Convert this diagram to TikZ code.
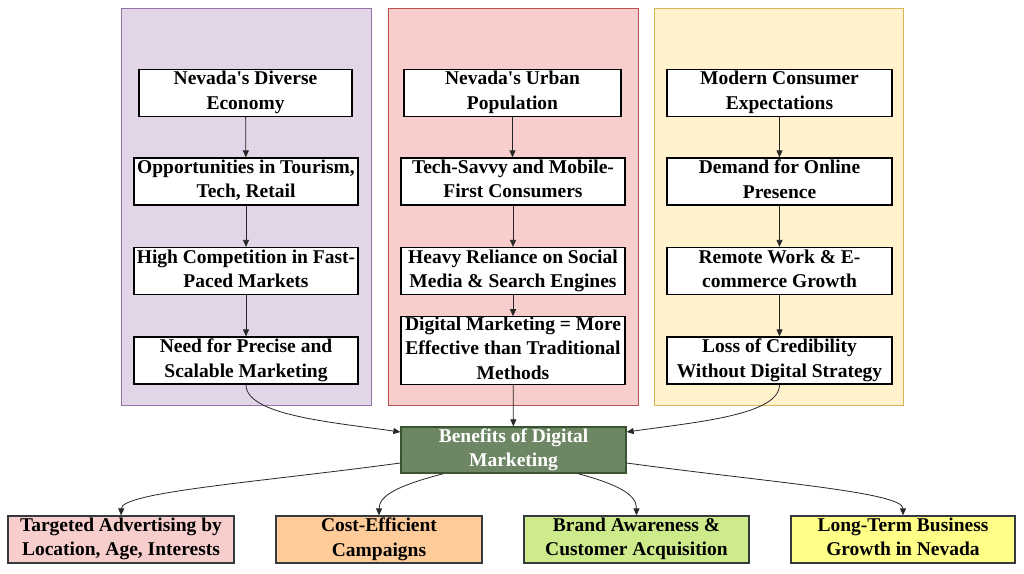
\documentclass[tikz,border=0pt]{standalone}
\usepackage{fontspec}
\setmainfont{Liberation Serif}[Ligatures=TeXOff]
\usetikzlibrary{arrows.meta}
\definecolor{purpfill}{HTML}{E1D5E7}
\definecolor{purpdraw}{HTML}{9673A6}
\definecolor{redfill}{HTML}{F8CECC}
\definecolor{reddraw}{HTML}{B85450}
\definecolor{yelfill}{HTML}{FFF2CC}
\definecolor{yeldraw}{HTML}{D6B656}
\definecolor{grnfill}{HTML}{6D8764}
\definecolor{grndraw}{HTML}{3A5431}
\definecolor{orgfill}{HTML}{FFCC99}
\definecolor{limefill}{HTML}{CDEB8B}
\definecolor{lyelfill}{HTML}{FFFF88}
\definecolor{darkedge}{HTML}{36393D}
\newcommand\myTop{\rule{0pt}{15.5pt}}
\newcommand\myBot{\rule[-5pt]{0pt}{5pt}}
\tikzset{
  panel/.style={draw=#1draw, fill=#1fill, line width=0.9pt},
  txt/.style={inner sep=0pt, align=center, font=\fontsize{19.5}{24.4}\selectfont\bfseries,
    execute at begin node=\myTop, execute at end node=\myBot},
  stepbox/.style={txt, draw=black, fill=white, line width=1.3pt, minimum height=47pt},
  outbox/.style={txt, draw=darkedge, fill=#1, line width=1.3pt, minimum height=47pt},
  conn/.style={draw=black!85, line width=0.8pt, -{Triangle[length=7pt,width=6pt]}},
}
\begin{document}
\begin{tikzpicture}[x=1pt,y=-1pt]
\useasboundingbox (0,0) rectangle (1024,573);
% panels
\draw[panel=purp] (121,8.5) rectangle (371,405);
\draw[panel=red] (388,8.5) rectangle (638,405);
\draw[panel=yel] (654,8.5) rectangle (903,405);
% left column
\node[stepbox, minimum width=213pt] (l1) at (245.5,92.8) {Nevada's Diverse\\Economy};
\node[stepbox, minimum width=224pt] (l2) at (246,181.5) {Opportunities in Tourism,\\Tech, Retail};
\node[stepbox, minimum width=224pt] (l3) at (246,271) {High Competition in Fast-\\Paced Markets};
\node[stepbox, minimum width=224pt] (l4) at (246,360.5) {Need for Precise and\\Scalable Marketing};
% middle column
\node[stepbox, minimum width=217pt] (m1) at (512.5,92.8) {Nevada's Urban\\Population};
\node[stepbox, minimum width=224pt] (m2) at (513,181.5) {Tech-Savvy and Mobile-\\First Consumers};
\node[stepbox, minimum width=224pt] (m3) at (513,271) {Heavy Reliance on Social\\Media \& Search Engines};
\node[stepbox, minimum width=224pt, minimum height=65pt] (m4) at (513,350.5) {Digital Marketing = More\\Effective than Traditional\\Methods};
% right column
\node[stepbox, minimum width=225pt] (r1) at (779.5,92.8) {Modern Consumer\\Expectations};
\node[stepbox, minimum width=225pt] (r2) at (779.5,181.5) {Demand for Online\\Presence};
\node[stepbox, minimum width=225pt] (r3) at (779.5,271) {Remote Work \& E-\\commerce Growth};
\node[stepbox, minimum width=225pt] (r4) at (779.5,360.5) {Loss of Credibility\\Without Digital Strategy};
% center
\node[txt, draw=grndraw, fill=grnfill, line width=1.3pt, minimum width=225pt, minimum height=46pt,
  text=white] (c) at (513.5,450) {Benefits of Digital\\Marketing};
% bottom
\node[outbox=redfill, minimum width=226pt] (b1) at (121,539.5) {Targeted Advertising by\\Location, Age, Interests};
\node[outbox=orgfill, minimum width=206pt] (b2) at (379,539.5) {Cost-Efficient\\Campaigns};
\node[outbox=limefill, minimum width=225pt] (b3) at (636.5,539.5) {Brand Awareness \&\\Customer Acquisition};
\node[outbox=lyelfill, minimum width=224pt] (b4) at (903,539.5) {Long-Term Business\\Growth in Nevada};
% column connectors
\draw[conn] (l1) -- (l2);
\draw[conn] (l2) -- (l3);
\draw[conn] (l3) -- (l4);
\draw[conn] (m1.south) -- (m2.north -| m1.south);
\draw[conn] (m2) -- (m3);
\draw[conn] (m3) -- (m4);
\draw[conn] (r1) -- (r2);
\draw[conn] (r2) -- (r3);
\draw[conn] (r3) -- (r4);
% into center
\coordinate (cl) at ([yshift=18pt]c.west);
\coordinate (cr) at ([yshift=18pt]c.east);
\draw[conn] (l4.south) .. controls (246,415) and (330,422) .. (cl);
\draw[conn] (m4) -- (c);
\draw[conn] (r4.south) .. controls (779.5,415) and (697,422) .. (cr);
% out of center
\coordinate (co1) at ([yshift=-13pt]c.west);
\coordinate (co4) at ([yshift=-13pt]c.east);
\coordinate (cb2) at ([xshift=-70pt]c.south);
\coordinate (cb3) at ([xshift=64.5pt]c.south);
\draw[conn] (co1) .. controls (260,482) and (122,492) .. (b1.north);
\draw[conn] (cb2) .. controls (400,485) and (379,495) .. (b2.north);
\draw[conn] (cb3) .. controls (620,485) and (636.5,495) .. (b3.north);
\draw[conn] (co4) .. controls (766,482) and (903,492) .. (b4.north);
\end{tikzpicture}
\end{document}
